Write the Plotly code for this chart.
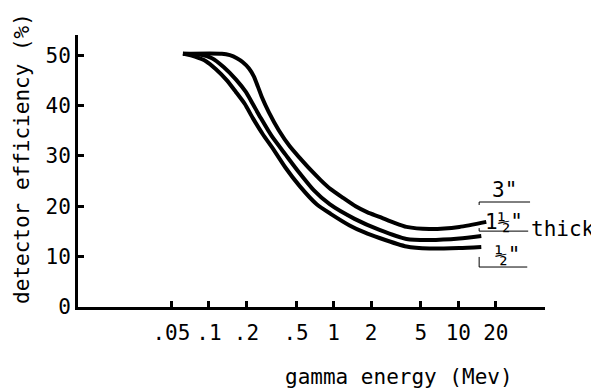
import plotly.graph_objects as go

# --- data ---
energy_3in = [0.0619, 0.1271, 0.1472, 0.1675, 0.1871, 0.2089, 0.2291, 0.2466, 0.2655, 0.3020, 0.3631, 0.4446,
              0.5346, 0.6546, 0.7870, 0.9462, 1.202, 1.500, 1.871, 2.333, 3.076, 3.837, 5.861, 10.19, 16.75]
eff_3in = [50.3, 50.3, 50.0, 49.4, 48.6, 47.4, 45.8, 43.8, 41.7, 38.7, 35.1, 31.9,
           29.6, 27.2, 25.2, 23.4, 21.6, 20.0, 18.8, 17.9, 16.7, 15.9, 15.5, 15.9, 16.9]

energy_15in = [0.0619, 0.0847, 0.1057, 0.1318, 0.1644, 0.1977, 0.2249, 0.2606, 0.3192, 0.4130, 0.5248, 0.6918,
               0.9290, 1.472, 2.333, 3.837, 5.861, 10.19, 15.28]
eff_15in = [50.3, 50.1, 49.4, 47.6, 45.2, 42.7, 40.3, 37.5, 33.9, 30.2, 26.8, 23.2,
            20.4, 17.5, 15.3, 13.5, 13.3, 13.6, 14.1]

energy_05in = [0.0619, 0.0773, 0.0946, 0.1138, 0.1393, 0.1644, 0.1941, 0.2249, 0.2704, 0.3311, 0.4130, 0.5346,
               0.7311, 0.9462, 1.343, 1.77, 2.333, 3.837, 5.861, 10.19, 15.28]
eff_05in = [50.3, 49.7, 48.8, 47.2, 45.0, 42.7, 40.3, 37.5, 34.3, 31.2, 27.6, 24.0,
            20.4, 18.5, 16.2, 14.8, 13.7, 12.0, 11.6, 11.7, 11.9]

x_tickvals = [0.05, 0.1, 0.2, 0.5, 1, 2, 5, 10, 20]
x_ticktext = [".05", ".1", ".2", ".5", "1", "2", "5", "10", "20"]
y_tickvals = [0, 10, 20, 30, 40, 50]

FONT = "DejaVu Sans Mono"
FS = 21

fig = go.Figure()
for xs, ys in [(energy_3in, eff_3in), (energy_15in, eff_15in), (energy_05in, eff_05in)]:
    fig.add_trace(go.Scatter(x=xs, y=ys, mode="lines",
                             line=dict(color="black", width=4, shape="spline", smoothing=0.6),
                             showlegend=False, hoverinfo="skip"))

fig.update_layout(
    width=591, height=383,
    margin=dict(l=70, r=54, t=27, b=84),
    paper_bgcolor="white", plot_bgcolor="white",
    font=dict(family=FONT, size=FS, color="black"),
    xaxis=dict(type="log", range=[-2.05, 1.695], tickvals=x_tickvals, ticktext=x_ticktext,
               ticks="inside", ticklen=6, tickwidth=2.5, tickcolor="black", ticklabelstandoff=5,
               showline=True, linecolor="black", linewidth=3, showgrid=False, zeroline=False,
               tickfont=dict(family=FONT, size=FS)),
    yaxis=dict(range=[0, 54], tickvals=y_tickvals, ticks="inside", ticklen=6, tickwidth=2.5,
               tickcolor="black", showline=True, linecolor="black", linewidth=3,
               showgrid=False, zeroline=False, tickfont=dict(family=FONT, size=FS)),
)

ann = dict(xref="paper", yref="paper", showarrow=False, font=dict(family=FONT, size=FS, color="black"))
fig.add_annotation(text="gamma energy (Mev)", x=0.687, y=-0.257, xanchor="center", yanchor="middle", **ann)
fig.add_annotation(text="detector efficiency (%)", x=-0.12, y=0.548, textangle=-90,
                   xanchor="center", yanchor="middle", **ann)
fig.add_annotation(text='3"', x=0.914, y=0.43, xanchor="center", yanchor="middle", **ann)
fig.add_annotation(text='1½"', x=0.912, y=0.3125, xanchor="center", yanchor="middle", **ann)
fig.add_annotation(text='½"', x=0.919, y=0.191, xanchor="center", yanchor="middle", **ann)
fig.add_annotation(text="thick", x=0.966, y=0.287, xanchor="left", yanchor="middle", **ann)

ln = dict(xref="paper", yref="paper", line=dict(color="black", width=1))
fig.add_shape(type="line", x0=0.859, x1=0.968, y0=0.386, y1=0.386, **ln)
fig.add_shape(type="line", x0=0.859, x1=0.859, y0=0.386, y1=0.375, **ln)
fig.add_shape(type="line", x0=0.859, x1=0.964, y0=0.279, y1=0.279, **ln)
fig.add_shape(type="line", x0=0.859, x1=0.859, y0=0.279, y1=0.29, **ln)
fig.add_shape(type="line", x0=0.859, x1=0.962, y0=0.147, y1=0.147, **ln)
fig.add_shape(type="line", x0=0.859, x1=0.859, y0=0.147, y1=0.184, **ln)

fig.write_html("out.html")
